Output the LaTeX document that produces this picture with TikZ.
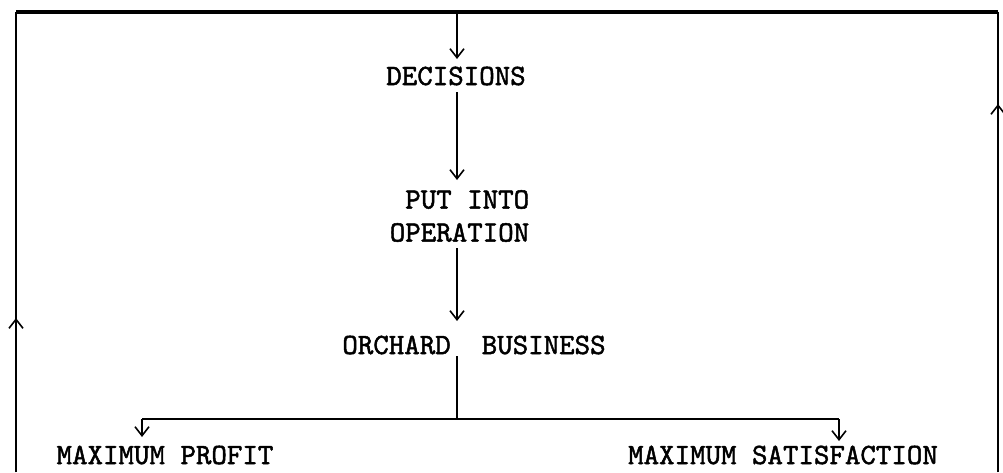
\documentclass[tikz,border=0pt]{standalone}
\usepackage{fontspec}
\usetikzlibrary{arrows.meta}
% typewriter face, slightly emboldened like a ribbon impression
\newfontfamily\typer[FakeBold=1.6]{lmmono10-regular.otf}
\begin{document}
\begin{tikzpicture}[x=1pt,y=-1pt,
  label/.style={font=\typer\fontsize{29.5}{33}\selectfont, inner sep=0pt, text=black},
  flow/.style={line width=1.9pt, draw=black},
  frame/.style={line width=2.2pt, draw=black},
  tip/.style={-{Straight Barb[length=9pt,width=14pt,line width=1.6pt]}}]
\useasboundingbox (0,0) rectangle (1003,472);

% outer feedback frame
\coordinate (tl) at (16,12);
\coordinate (tr) at (998,12);
\coordinate (tm) at (457,12);
\coordinate (lbot) at (16,472);
\coordinate (rbot) at (998,472);
\coordinate (larr) at (16,318);
\coordinate (rarr) at (998,104);

% text blocks
\node[label] (dec) at (456,76) {DECISIONS};
\node[label, align=right] (put) at (459.5,216) {PUT INTO\\OPERATION};
\node[label] (orch) at (474,345) {ORCHARD\ \ BUSINESS};
\node[label] (prof) at (165,455) {MAXIMUM PROFIT};
\node[label] (sat) at (783,455) {MAXIMUM SATISFACTION};

% split of the business line
\coordinate (split) at (457,419);
\coordinate (sl) at (142,419);
\coordinate (sr) at (839,419);
\coordinate (pl) at (142,437);
\coordinate (pr) at (839,441);

% frame lines
\draw[line width=3.5pt] (tl) -- (tr);
\draw[frame] (lbot) -- (tl);
\draw[frame, tip] (lbot) -- (larr);
\draw[frame] (rbot) -- (tr);
\draw[frame, tip] (rbot) -- (rarr);

% main flow
\draw[flow, tip] (tm) -- (tm |- 0,59);
\draw[flow, tip] (457,92) -- (457,180);
\draw[flow, tip] (457,248) -- (457,321);
\draw[flow] (457,356) -- (split);
\draw[flow] (sl) -- (sr);
\draw[flow, tip] (sl) -- (pl);
\draw[flow, tip] (sr) -- (pr);
\end{tikzpicture}
\end{document}
